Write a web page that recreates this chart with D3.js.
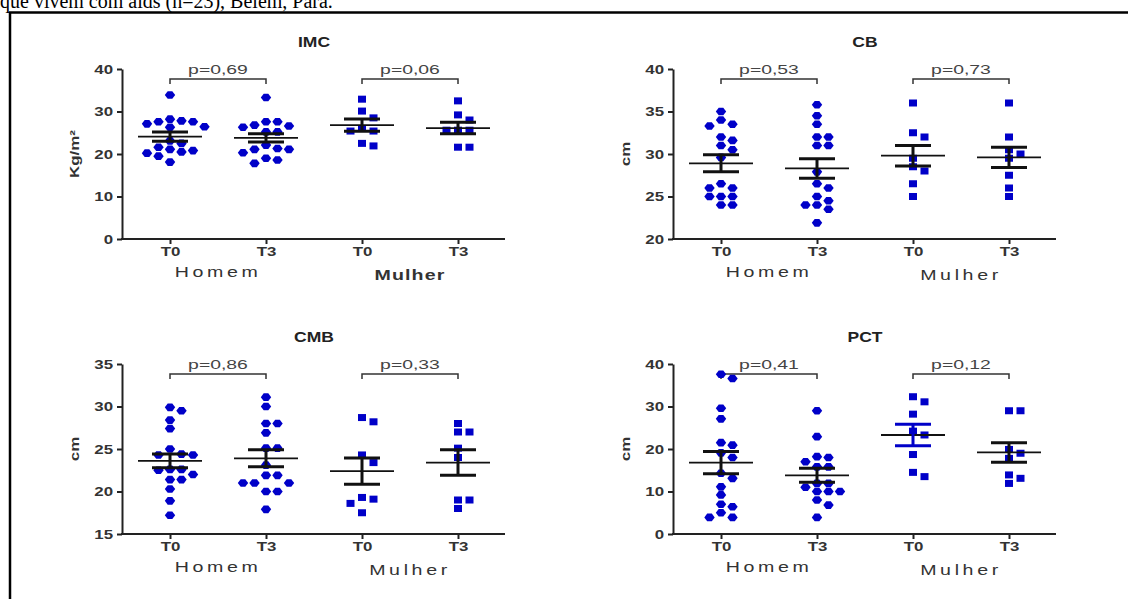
<!DOCTYPE html>
<html>
<head>
<meta charset="utf-8">
<script src="https://cdn.jsdelivr.net/npm/d3@7"></script>
<style>
  body { margin: 0; background: #fff; }
  svg { display: block; font-family: "Liberation Sans", Arial, sans-serif; }
</style>
</head>
<body>
<script>
// chart data
const titles = ["IMC", "CB", "CMB", "PCT"];
const yLabels = ["Kg/m²", "cm", "cm", "cm"];
const tickLabels = ["T0", "T3", "T0", "T3"];
const sexLabels = ["Homem", "Mulher"];
const yDomains = [[0, 40], [20, 40], [15, 35], [0, 40]];
const yTicks = [[0, 10, 20, 30, 40], [20, 25, 30, 35, 40], [15, 20, 25, 30, 35], [0, 10, 20, 30, 40]];
const pValues = [["p=0,69", "p=0,06"], ["p=0,53", "p=0,73"], ["p=0,86", "p=0,33"], ["p=0,41", "p=0,12"]];

// values per group: Homem T0, Homem T3, Mulher T0, Mulher T3
const imc = [
  [33.9, 28.2, 27.8, 27.6, 27.6, 27.1, 26.4, 26.3, 23.1, 22.5, 21.6, 21.1, 20.8, 20.5, 20.2, 19.5, 18.1],
  [33.3, 27.6, 27.6, 26.8, 26.6, 26.3, 25.2, 25.2, 22.1, 21.3, 21.1, 21.1, 20.3, 19.0, 18.6, 17.8],
  [32.9, 30.1, 28.5, 26.0, 25.4, 25.4, 22.5, 21.9],
  [32.5, 29.2, 28.0, 25.6, 25.6, 25.6, 21.6, 21.6]
];
const cb = [
  [35, 34, 33.5, 33.3, 32, 31.6, 31, 30.5, 29.6, 26.5, 26, 26, 25, 25, 25, 24, 24],
  [35.8, 34.5, 33.5, 32, 32, 31, 31, 27.9, 26.5, 26, 25, 24.5, 24, 24, 23.5, 21.9],
  [36, 32.5, 32, 29.5, 28.5, 28, 26.5, 25],
  [36, 32, 30.5, 30, 29.5, 27.5, 26, 25]
];
const cmb = [
  [29.9, 29.5, 28.4, 27.4, 25.0, 24.4, 24.3, 24.3, 22.6, 22.6, 22.5, 22.0, 21.4, 21.4, 20.3, 18.9, 17.2],
  [31.1, 30.0, 28.0, 28.0, 26.9, 25.1, 25.1, 23.1, 21.9, 21.9, 21.0, 21.0, 21.0, 20.0, 20.0, 17.9],
  [28.7, 28.2, 24.3, 23.4, 19.3, 19.1, 18.6, 17.5],
  [28.0, 27.0, 27.0, 25.1, 24.0, 19.0, 19.0, 18.0]
];
const pct = [
  [37.6, 36.6, 29.6, 27.1, 21.5, 20.9, 19.1, 18.0, 14.3, 13.1, 11.1, 9.2, 7.0, 6.4, 5.0, 3.9, 3.9],
  [29.0, 22.9, 18.2, 18.0, 17.0, 15.8, 15.8, 11.9, 11.9, 11.0, 10.0, 10.0, 10.0, 8.0, 6.8, 3.9],
  [32.3, 31.1, 28.2, 24.2, 23.3, 18.7, 14.5, 13.5],
  [29.0, 29.0, 19.9, 19.0, 17.8, 13.9, 13.1, 11.9]
];

// mean and SEM as plotted
const means = [[24.1, 23.8, 26.8, 26.1], [28.9, 28.3, 29.8, 29.6], [23.6, 23.9, 22.4, 23.4], [16.8, 13.8, 23.3, 19.2]];
const sems = [[1.1, 0.95, 1.45, 1.35], [1.0, 1.15, 1.2, 1.2], [0.8, 1.0, 1.55, 1.5], [2.6, 1.65, 2.55, 2.3]];

const values = [imc, cb, cmb, pct];

const width = 1128, height = 599;
const blue = "#0000c8";
const ink = "#222";
const SX = 1.35; // the figure is stretched horizontally

const svg = d3.select("body").append("svg")
  .attr("width", width)
  .attr("height", height);

// caption line cut off at the top, and the frame
svg.append("text")
  .attr("x", 0)
  .attr("y", 8)
  .attr("font-family", "Liberation Serif, Times New Roman, serif")
  .attr("font-size", 20)
  .attr("fill", "#000")
  .text("que vivem com aids (n=23), Belém, Pará.");

svg.append("rect")
  .attr("x", 10)
  .attr("y", 12.5)
  .attr("width", 1300)
  .attr("height", 800)
  .attr("fill", "none")
  .attr("stroke", "#000")
  .attr("stroke-width", 2.5);

function label(g, x, y, str, sx) {
  return g.append("text")
    .attr("transform", `translate(${x},${y}) scale(${sx || SX},1)`)
    .attr("text-anchor", "middle")
    .attr("fill", ink)
    .text(str);
}

// simple column swarm like Prism does it
function swarm(vals, y, gap) {
  const order = vals.map((v, k) => ({ v, k })).sort((a, b) => b.v - a.v);
  const placed = [];
  const out = [];
  const tries = [0, 1, -1, 2, -2, 3, -3];
  order.forEach(o => {
    const py = y(o.v);
    for (const c of tries) {
      if (!placed.some(p => p.c === c && Math.abs(p.y - py) < gap)) {
        placed.push({ c, y: py });
        out[o.k] = { c, y: py, v: o.v };
        break;
      }
    }
  });
  return out;
}

const hexPath = "M-5.2,0L-2.3,-3.8L2.3,-3.8L5.2,0L2.3,3.8L-2.3,3.8Z";

const layout = [
  { x0: 122, top: 69 },
  { x0: 673, top: 69 },
  { x0: 122, top: 364 },
  { x0: 673, top: 364 }
];

layout.forEach((L, i) => drawPanel(i, L.x0, L.top));

function drawPanel(i, x0, top) {
  const bottom = top + 170;
  const g = svg.append("g");

  const y = d3.scaleLinear().domain(yDomains[i]).range([bottom, top]);
  const x = d3.scalePoint().domain([0, 1, 2, 3]).range([x0 + 48, x0 + 336]);

  // y axis
  const yAxis = g.append("g")
    .attr("transform", `translate(${x0},0)`)
    .call(d3.axisLeft(y).tickValues(yTicks[i]).tickSize(5).tickSizeOuter(0).tickPadding(4));
  yAxis.select(".domain").attr("stroke", ink).attr("stroke-width", 2);
  yAxis.selectAll(".tick line").attr("stroke", ink).attr("stroke-width", 2);
  yAxis.selectAll(".tick text")
    .attr("font-size", 12.5)
    .attr("font-weight", "bold")
    .attr("fill", "#333")
    .attr("x", -9 / SX)
    .attr("transform", `scale(${SX},1)`);

  // x axis
  g.append("line")
    .attr("x1", x0 - 1).attr("x2", x0 + 383)
    .attr("y1", bottom).attr("y2", bottom)
    .attr("stroke", ink).attr("stroke-width", 2);
  const xAxis = g.append("g")
    .attr("transform", `translate(0,${bottom})`)
    .call(d3.axisBottom(x).tickSize(5).tickSizeOuter(0).tickPadding(3).tickFormat(k => tickLabels[k]));
  xAxis.select(".domain").remove();
  xAxis.selectAll(".tick line").attr("stroke", ink).attr("stroke-width", 2);
  xAxis.selectAll(".tick text")
    .attr("font-size", 12.5)
    .attr("font-weight", "bold")
    .attr("fill", "#333")
    .attr("transform", `scale(${SX},1)`);

  // group names under the axis
  label(g, (x(0) + x(1)) / 2, bottom + 38, sexLabels[0], 1.4)
    .attr("font-size", 14)
    .attr("letter-spacing", 2.6)
    .attr("fill", "#333");
  const mul = label(g, (x(2) + x(3)) / 2, bottom + 41, sexLabels[1], 1.4)
    .attr("font-size", 14)
    .attr("fill", "#333");
  if (i === 0) mul.attr("font-weight", "bold").attr("letter-spacing", 0.8);
  else mul.attr("letter-spacing", 2.6);

  // title and y label
  label(g, x0 + 192, top - 22, titles[i], 1.25)
    .attr("font-size", 14)
    .attr("font-weight", "bold");
  g.append("text")
    .attr("transform", `translate(${x0 - 43},${(top + bottom) / 2}) rotate(-90) scale(1.3,1)`)
    .attr("text-anchor", "middle")
    .attr("font-size", 13)
    .attr("font-weight", "bold")
    .attr("fill", "#333")
    .text(yLabels[i]);

  // p-value brackets
  [[0, 1], [2, 3]].forEach((pair, j) => {
    const xa = x(pair[0]), xb = x(pair[1]);
    g.append("path")
      .attr("d", `M${xa},${top + 15}V${top + 10}H${xb}V${top + 15}`)
      .attr("fill", "none")
      .attr("stroke", "#333")
      .attr("stroke-width", 1.5);
    label(g, (xa + xb) / 2, top + 5, pValues[i][j], 1.55)
      .attr("font-size", 12.5)
      .attr("fill", "#444");
  });

  // points
  values[i].forEach((vals, k) => {
    const pts = swarm(vals, y, 8);
    const cx = x(k);
    if (k < 2) {
      g.append("g").selectAll("path")
        .data(pts)
        .join("path")
        .attr("d", hexPath)
        .attr("transform", d => `translate(${cx + d.c * 11.5},${d.y})`)
        .attr("fill", blue);
    } else {
      g.append("g").selectAll("rect")
        .data(pts)
        .join("rect")
        .attr("x", d => cx + d.c * 11.5 - 4)
        .attr("y", d => d.y - 3.5)
        .attr("width", 8)
        .attr("height", 7)
        .attr("fill", blue);
    }
  });

  // mean line and SEM bars on top
  means[i].forEach((m, k) => {
    const cx = x(k);
    const s = sems[i][k];
    const barColor = (i === 3 && k === 2) ? blue : "#111";
    g.append("line")
      .attr("x1", cx - 32).attr("x2", cx + 32)
      .attr("y1", y(m)).attr("y2", y(m))
      .attr("stroke", "#111").attr("stroke-width", 1.8);
    g.append("line")
      .attr("x1", cx).attr("x2", cx)
      .attr("y1", y(m - s)).attr("y2", y(m + s))
      .attr("stroke", barColor).attr("stroke-width", 3);
    [m - s, m + s].forEach(v => {
      g.append("line")
        .attr("x1", cx - 18).attr("x2", cx + 18)
        .attr("y1", y(v)).attr("y2", y(v))
        .attr("stroke", barColor).attr("stroke-width", 3);
    });
  });
}
</script>
</body>
</html>
